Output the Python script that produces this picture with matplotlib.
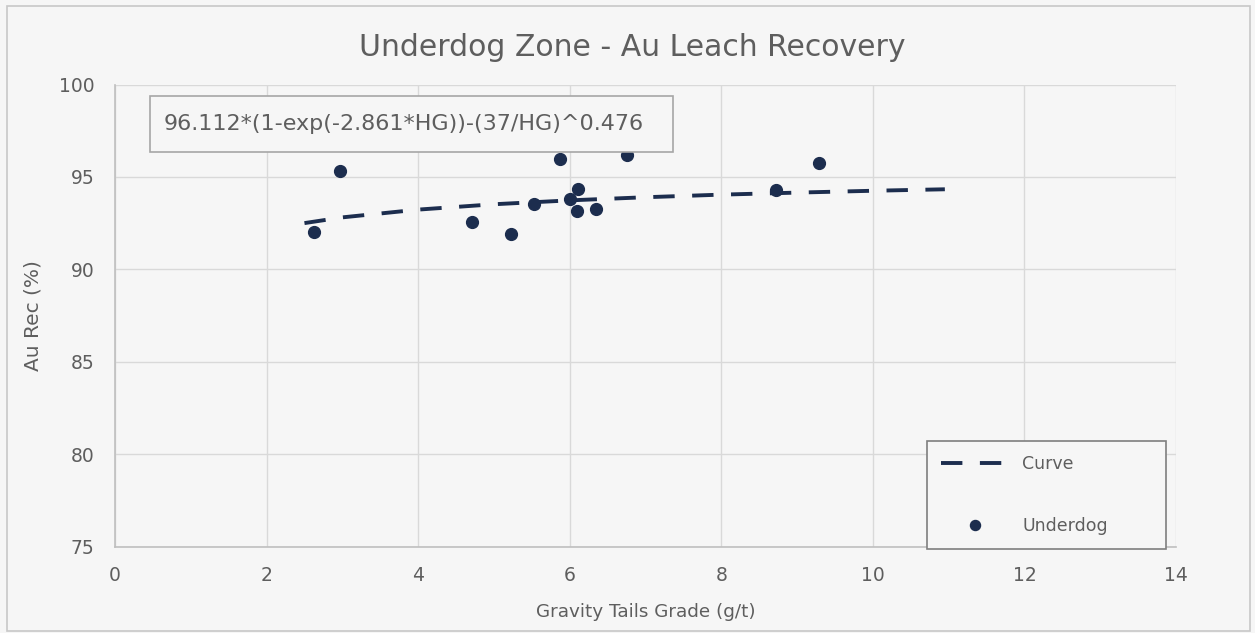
import matplotlib
matplotlib.use("Agg")
import matplotlib.pyplot as plt
from matplotlib.patches import Rectangle

# ---- data ----
hg = [2.62, 2.97, 4.71, 5.22, 5.53, 5.87, 6.00, 6.10, 6.11, 6.35, 6.75, 8.72, 9.29]
rec = [92.03, 95.31, 92.57, 91.90, 93.53, 95.96, 93.80, 93.15, 94.32, 93.24, 96.18, 94.29, 95.76]

curve_x = [2.5, 3, 4, 5, 6, 7, 8, 9, 10, 10.95]
curve_y = [92.50, 92.81, 93.23, 93.52, 93.73, 93.90, 94.04, 94.15, 94.25, 94.33]

x_ticks = [0, 2, 4, 6, 8, 10, 12, 14]
y_ticks = [75, 80, 85, 90, 95, 100]

title = "Underdog Zone - Au Leach Recovery"
equation = "96.112*(1-exp(-2.861*HG))-(37/HG)^0.476"
x_label = "Gravity Tails Grade (g/t)"
y_label = "Au Rec (%)"
series_names = ["Curve", "Underdog"]

# ---- style ----
W, H = 1255, 633
bg = "#F6F6F6"
navy = "#1C2D4E"
txt = "#5E5E5E"
grid = "#D9D9D9"
plt.rcParams["font.family"] = ["DejaVu Sans"]

fig = plt.figure(figsize=(W / 100, H / 100), dpi=100, facecolor=bg)

def fx(px):
    return px / W

def fy(py):
    return 1 - py / H

# outer chart border
fig.patches.append(Rectangle((fx(7), fy(631)), fx(1250) - fx(7), fy(6) - fy(631),
                             transform=fig.transFigure, fill=False,
                             edgecolor="#C8C8C8", linewidth=1.2, zorder=0))

left, right, top, bottom = 115, 1176, 84.5, 546.5
ax = fig.add_axes([fx(left), fy(bottom), fx(right) - fx(left), fy(top) - fy(bottom)])
ax.set_facecolor(bg)

ax.plot(curve_x, curve_y, color=navy, linewidth=2.8, linestyle=(0, (5.5, 4.5)),
        dash_capstyle="butt", label=series_names[0], zorder=3)
ax.plot(hg, rec, linestyle="none", marker="o", markersize=8.5, color=navy,
        label=series_names[1], zorder=4)

ax.set_xlim(0, 14)
ax.set_ylim(75, 100)
ax.set_xticks(x_ticks)
ax.set_yticks(y_ticks)
ax.grid(True, color=grid, linewidth=1.0)
ax.set_axisbelow(True)
for s in ["top", "right"]:
    ax.spines[s].set_visible(False)
for s in ["left", "bottom"]:
    ax.spines[s].set_color("#BFBFBF")
    ax.spines[s].set_linewidth(1.2)
ax.tick_params(length=0, labelsize=13.5, labelcolor=txt)
ax.tick_params(axis="y", pad=15)
ax.tick_params(axis="x", pad=14)

ax.set_xlabel(x_label, fontsize=13.2, color=txt)
ax.xaxis.set_label_coords(0.5, (bottom - 612) / (bottom - top))
ax.set_ylabel(y_label, fontsize=14.5, color=txt)
ax.yaxis.set_label_coords((33 - left) / (right - left), 0.5)
ax.xaxis.label.set_va("center")
ax.yaxis.label.set_va("center")

fig.text(fx(632), fy(47), title, ha="center", va="center", fontsize=21.5, color=txt)

# equation box
fig.patches.append(Rectangle((fx(150), fy(152)), fx(673) - fx(150), fy(96) - fy(152),
                             transform=fig.transFigure, facecolor=bg,
                             edgecolor="#A6A6A6", linewidth=1.2, zorder=5))
fig.text(fx(164), fy(124), equation, ha="left", va="center", fontsize=16, color=txt, zorder=6)

leg = ax.legend(loc="lower left", bbox_to_anchor=(fx(927), fy(549), fx(1166) - fx(927), fy(441) - fy(549)),
                bbox_transform=fig.transFigure, mode="expand", borderaxespad=0,
                frameon=True, fancybox=False, edgecolor="#7F7F7F", facecolor=bg, framealpha=1,
                fontsize=12.5, handlelength=3.9, handletextpad=0.8, borderpad=0.8,
                labelspacing=2.55, markerscale=0.85)
leg.get_frame().set_linewidth(1.2)
for t in leg.get_texts():
    t.set_color(txt)

fig.savefig("out.png", dpi=100, facecolor=bg)
